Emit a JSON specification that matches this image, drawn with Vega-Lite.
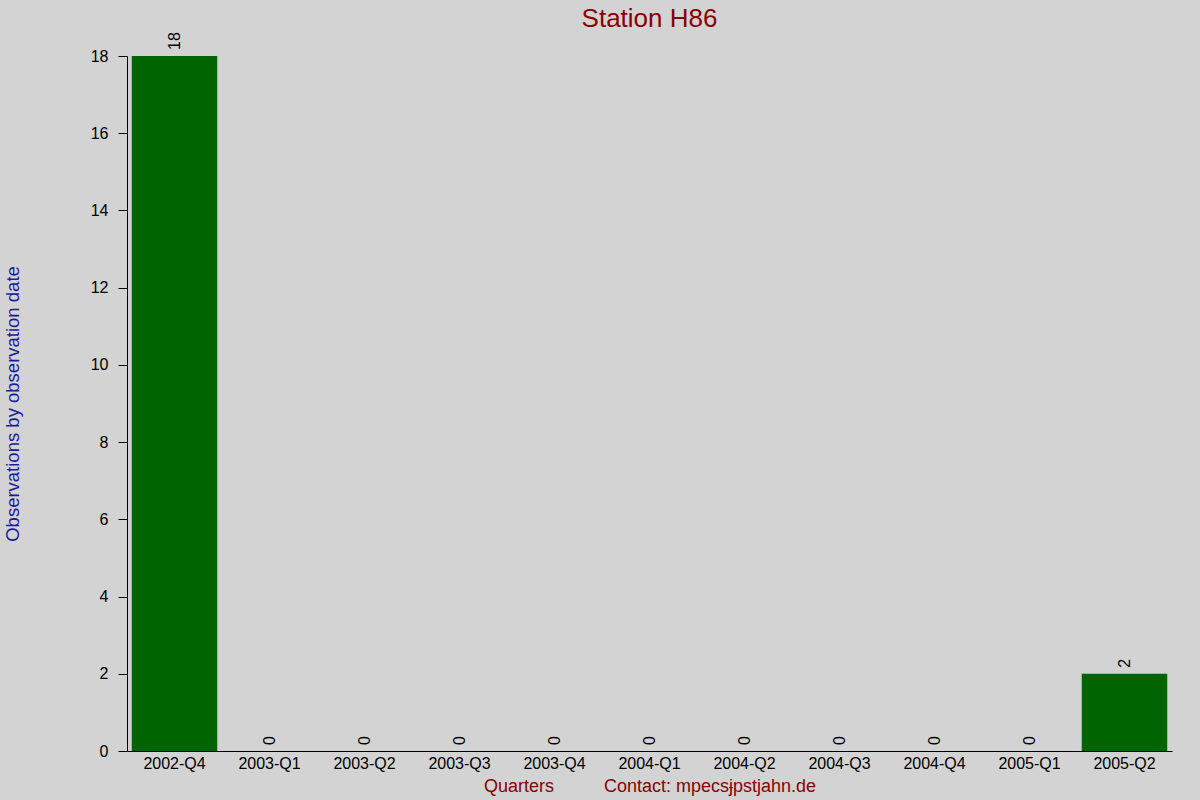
{
  "$schema": "https://vega.github.io/schema/vega-lite/v6.json",
  "autosize": "none",
  "width": 1045,
  "height": 695,
  "padding": {"left": 127, "top": 56, "right": 28, "bottom": 49},
  "background": "#d3d3d3",
  "title": {
    "text": "Station H86",
    "font": "Liberation Sans",
    "fontSize": 26,
    "fontWeight": "normal",
    "color": "#8b0000",
    "anchor": "middle",
    "offset": 0
  },
  "config": {
    "view": {"stroke": null},
    "font": "Liberation Sans"
  },
  "data": {
    "values": [
      {"quarter": "2002-Q4", "count": 18},
      {"quarter": "2003-Q1", "count": 0},
      {"quarter": "2003-Q2", "count": 0},
      {"quarter": "2003-Q3", "count": 0},
      {"quarter": "2003-Q4", "count": 0},
      {"quarter": "2004-Q1", "count": 0},
      {"quarter": "2004-Q2", "count": 0},
      {"quarter": "2004-Q3", "count": 0},
      {"quarter": "2004-Q4", "count": 0},
      {"quarter": "2005-Q1", "count": 0},
      {"quarter": "2005-Q2", "count": 2}
    ]
  },
  "encoding": {
    "x": {
      "field": "quarter",
      "type": "ordinal",
      "sort": null,
      "scale": {"paddingInner": 0.1, "paddingOuter": 0.05},
      "title": "Quarters\u00a0\u00a0\u00a0\u00a0\u00a0\u00a0\u00a0\u00a0\u00a0\u00a0Contact: mpecs\u0249pstjahn.de",
      "axis": {
        "labelAngle": 0,
        "labelFont": "Liberation Sans",
        "labelFontSize": 16,
        "labelColor": "#000000",
        "labelPadding": 4,
        "ticks": false,
        "domainColor": "#000000",
        "titleFont": "Liberation Sans",
        "titleFontSize": 18,
        "titleFontWeight": "normal",
        "titleColor": "#8b0000",
        "titlePadding": 6
      }
    },
    "y": {
      "field": "count",
      "type": "quantitative",
      "scale": {"domain": [0, 18], "nice": false},
      "title": "Observations by observation date",
      "axis": {
        "values": [0, 2, 4, 6, 8, 10, 12, 14, 16, 18],
        "grid": false,
        "tickSize": 9,
        "tickColor": "#000000",
        "domainColor": "#000000",
        "labelFont": "Liberation Sans",
        "labelFontSize": 16,
        "labelColor": "#000000",
        "labelPadding": 10,
        "titleFont": "Liberation Sans",
        "titleFontSize": 18.5,
        "titleFontWeight": "normal",
        "titleColor": "#1a1a9c",
        "titlePadding": 68
      }
    }
  },
  "layer": [
    {
      "mark": {"type": "bar", "color": "#006400"}
    },
    {
      "mark": {
        "type": "text",
        "angle": -90,
        "align": "left",
        "baseline": "middle",
        "dx": 6,
        "font": "Liberation Sans",
        "fontSize": 16,
        "color": "#000000"
      },
      "encoding": {"text": {"field": "count", "type": "quantitative"}}
    }
  ]
}
